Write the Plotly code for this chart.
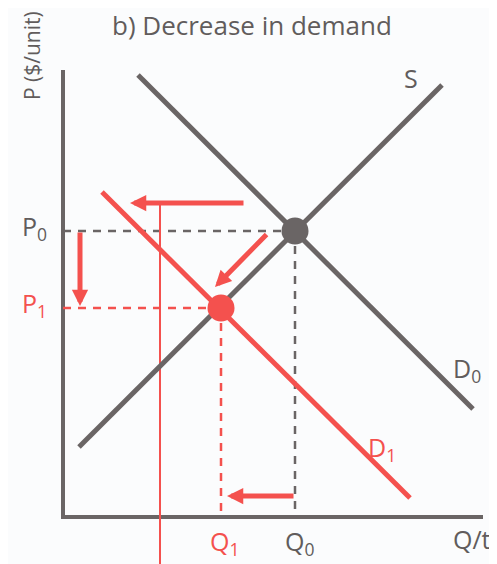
import plotly.graph_objects as go

# ---------------- data (model units; origin at the axes' corner) ----------------
S_q = [16, 379]
S_p = [70, 432]
D0_q = [75, 410]
D0_p = [442, 108]
D1_q = [39, 347]
D1_p = [325, 19]

Q0, P0 = 232, 286          # original equilibrium
Q1, P1 = 158, 209          # new equilibrium

axis_q_max = 420
axis_p_max = 447

guide_q = 97               # thin red vertical guide line
guide_p = [314, -47]

# arrows: (tail_q, tail_p, tip_q, tip_p)
arrows = [
    (182, 314, 67, 314),   # demand shifts left
    (205, 284, 152, 230),  # move along supply
    (17, 286, 17, 211),    # price falls
    (232, 21, 164, 21),    # quantity falls
]

GRAY = "#6a6565"
RED = "#f4514e"
TXT_GRAY = "#615c5c"
FONT = "Open Sans"

fig = go.Figure()

def line(x, y, color, width, dash="solid"):
    fig.add_trace(go.Scatter(x=x, y=y, mode="lines", hoverinfo="skip",
                             line=dict(color=color, width=width, dash=dash)))

# axes
line([0, 0, axis_q_max], [axis_p_max, 0, 0], GRAY, 4)

# guides
line([0, Q0], [P0, P0], GRAY, 2.5, "8px,7px")
line([Q0, Q0], [P0, 0], GRAY, 2.5, "8px,7px")
line([0, Q1], [P1, P1], RED, 2.5, "8px,7px")
line([Q1, Q1], [P1, 0], RED, 2.5, "8px,7px")
line([guide_q, guide_q], guide_p, RED, 2)

# curves
line(S_q, S_p, GRAY, 5)
line(D0_q, D0_p, GRAY, 5)
line(D1_q, D1_p, RED, 5)

# equilibrium points
fig.add_trace(go.Scatter(x=[Q0], y=[P0], mode="markers", hoverinfo="skip",
                         marker=dict(size=27, color=GRAY)))
fig.add_trace(go.Scatter(x=[Q1], y=[P1], mode="markers", hoverinfo="skip",
                         marker=dict(size=27, color=RED)))

for tq, tp, hq, hp in arrows:
    fig.add_annotation(x=hq, y=hp, ax=tq, ay=tp, xref="x", yref="y",
                       axref="x", ayref="y", text="", showarrow=True,
                       arrowhead=2, arrowsize=0.65, arrowwidth=5,
                       arrowcolor=RED, standoff=0)

def label(text, x, y, color, size=25, **kw):
    fig.add_annotation(x=x, y=y, xref="x", yref="y", text=text, showarrow=False,
                       xanchor="center", yanchor="middle",
                       font=dict(family=FONT, size=size, color=color), **kw)

label("P<sub>0</sub>", -29, P0 + 4, TXT_GRAY)
label("P<sub>1</sub>", -29, P1 + 4, RED)
label("Q<sub>1</sub>", Q1 + 3, -25, RED)
label("Q<sub>0</sub>", Q0 + 4, -25, TXT_GRAY)
label("Q/t", 409, -22, TXT_GRAY)
label("S", S_q[1] - 31, S_p[1] + 7, TXT_GRAY)
label("D<sub>0</sub>", D0_q[1] - 6, D0_p[1] + 40, TXT_GRAY)
label("D<sub>1</sub>", 319, 69, RED)
label("P ($/unit)", -31, 461, TXT_GRAY, size=21, textangle=-90)

fig.add_annotation(x=0.499, y=0.969, xref="paper", yref="paper",
                   xanchor="center", yanchor="middle",
                   text="b) Decrease in demand", showarrow=False,
                   font=dict(family=FONT, size=26, color=TXT_GRAY))

# page body has an 8px margin, so the figure is drawn 8px in from the corner
fig.update_layout(
    width=489, height=556, autosize=False,
    margin=dict(l=0, r=0, t=0, b=0),
    showlegend=False,
    paper_bgcolor="#fbfcfd", plot_bgcolor="#fbfcfd",
    xaxis=dict(range=[-55, 434], visible=False, fixedrange=True),
    yaxis=dict(range=[-47, 509], visible=False, fixedrange=True),
)

fig.write_html("out.html")
